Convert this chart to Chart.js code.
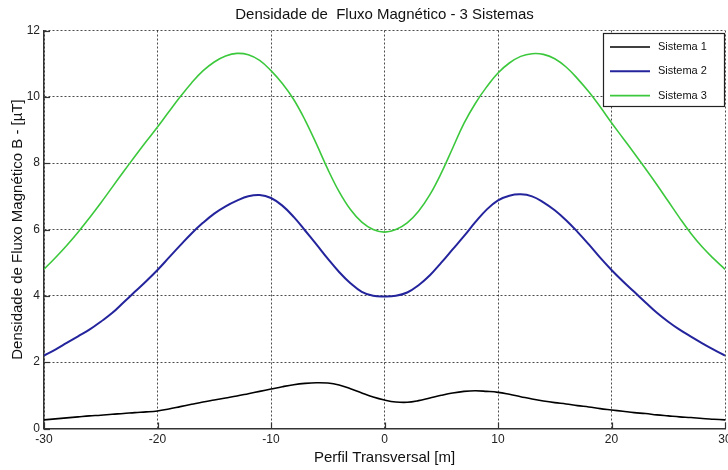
<!DOCTYPE html>
<html>
<head>
<meta charset="utf-8">
<script src="https://cdn.jsdelivr.net/npm/chart.js@4"></script>
<style>
  html, body { margin: 0; padding: 0; background: #fff; }
  #wrap { width: 728px; height: 470px; position: relative; }
</style>
</head>
<body>
<div id="wrap"><canvas id="c" width="728" height="470"></canvas></div>
<script>
// Transverse profile positions [m]
const xPositions = [-30,-29,-28,-27,-26,-25,-24,-23,-22,-21,-20,-19,-18,-17,-16,-15,-14,-13,-12,-11,-10,-9,-8,-7,-6,-5,-4,-3,-2,-1,0,
                    1,2,3,4,5,6,7,8,9,10,11,12,13,14,15,16,17,18,19,20,21,22,23,24,25,26,27,28,29,30];
// Magnetic flux density [µT]
const sistema1 = [0.26,0.29,0.32,0.35,0.38,0.40,0.43,0.45,0.48,0.50,0.53,0.59,0.66,0.73,0.80,0.86,0.92,0.98,1.05,1.12,1.19,1.26,1.32,1.36,1.38,1.37,1.31,1.20,1.07,0.95,0.86,
                  0.80,0.79,0.84,0.92,1.00,1.07,1.12,1.14,1.12,1.09,1.03,0.96,0.89,0.83,0.78,0.74,0.69,0.65,0.60,0.56,0.52,0.48,0.45,0.41,0.38,0.35,0.33,0.30,0.28,0.26];
const sistema2 = [2.20,2.38,2.58,2.78,2.98,3.22,3.48,3.80,4.12,4.44,4.78,5.15,5.52,5.88,6.20,6.48,6.70,6.87,7.00,7.04,6.95,6.72,6.38,5.97,5.55,5.12,4.72,4.38,4.12,4.00,3.98,
                  4.00,4.10,4.32,4.62,5.00,5.40,5.80,6.22,6.60,6.88,7.02,7.06,7.00,6.82,6.58,6.28,5.93,5.55,5.15,4.78,4.44,4.12,3.80,3.49,3.22,2.98,2.77,2.57,2.38,2.20];
const sistema3 = [4.80,5.15,5.52,5.92,6.35,6.80,7.27,7.74,8.20,8.65,9.09,9.55,10.00,10.42,10.78,11.05,11.23,11.31,11.27,11.10,10.79,10.40,9.92,9.30,8.58,7.82,7.14,6.60,6.22,6.00,5.92,
                  6.00,6.20,6.55,7.05,7.70,8.45,9.20,9.80,10.30,10.72,11.02,11.22,11.30,11.28,11.15,10.90,10.55,10.15,9.70,9.22,8.76,8.30,7.83,7.35,6.85,6.35,5.88,5.47,5.12,4.80];
const seriesLabels = ['Sistema 1', 'Sistema 2', 'Sistema 3'];
const seriesColors = ['#000000', '#24249c', '#3cc83c'];
const xTickValues = [-30,-20,-10,0,10,20,30];
const yTickValues = [0,2,4,6,8,10,12];

const FONT = '"Liberation Sans", Arial, sans-serif';

function toPoints(arr) { return xPositions.map((x, i) => ({ x: x, y: arr[i] })); }

const seriesData = [sistema1, sistema2, sistema3];
const datasets = seriesData.map((arr, i) => ({
  label: seriesLabels[i],
  data: toPoints(arr),
  borderColor: seriesColors[i],
  backgroundColor: seriesColors[i],
  borderWidth: i === 1 ? 2 : 1.6,
  pointRadius: 0,
  fill: false,
  tension: 0.4
}));

// inward tick marks like the original axes
const innerTicks = {
  id: 'innerTicks',
  afterDatasetsDraw(chart) {
    const ctx = chart.ctx, xs = chart.scales.x, ys = chart.scales.y, a = chart.chartArea;
    ctx.save();
    ctx.strokeStyle = '#333';
    ctx.lineWidth = 1.2;
    xs.ticks.forEach(t => {
      const px = Math.round(xs.getPixelForValue(t.value)) + 0.5;
      ctx.beginPath(); ctx.moveTo(px, a.bottom); ctx.lineTo(px, a.bottom - 6); ctx.stroke();
    });
    ys.ticks.forEach(t => {
      const py = Math.round(ys.getPixelForValue(t.value)) + 0.5;
      ctx.beginPath(); ctx.moveTo(a.left, py); ctx.lineTo(a.left + 6, py); ctx.stroke();
    });
    ctx.restore();
  }
};

// boxed legend in the upper right corner of the axes
const boxLegend = {
  id: 'boxLegend',
  afterDraw(chart) {
    const ctx = chart.ctx, a = chart.chartArea;
    const w = 122, h = 74;
    const x0 = a.right - w, y0 = a.top + 2.5;
    ctx.save();
    ctx.fillStyle = '#fff';
    ctx.fillRect(x0, y0, w, h);
    ctx.strokeStyle = '#222';
    ctx.lineWidth = 1.2;
    ctx.strokeRect(x0 + 0.5, y0 + 0.5, w - 1, h - 1);
    ctx.font = '11px ' + FONT;
    ctx.textBaseline = 'middle';
    ctx.textAlign = 'left';
    chart.data.datasets.forEach((ds, i) => {
      const cy = y0 + 14 + i * 24.3;
      ctx.strokeStyle = ds.borderColor;
      ctx.lineWidth = ds.borderWidth;
      ctx.beginPath(); ctx.moveTo(x0 + 7, cy); ctx.lineTo(x0 + 47, cy); ctx.stroke();
      ctx.fillStyle = '#111';
      ctx.fillText(ds.label, x0 + 55, cy);
    });
    ctx.restore();
  }
};

const gridCfg = {
  color: 'rgba(0,0,0,0.7)',
  lineWidth: 1,
  drawTicks: false
};

new Chart(document.getElementById('c'), {
  type: 'line',
  data: { datasets: datasets },
  plugins: [innerTicks, boxLegend],
  options: {
    responsive: false,
    animation: false,
    layout: { padding: { left: 0, right: 3, top: 0, bottom: 0 } },
    plugins: {
      legend: { display: false },
      tooltip: { enabled: false },
      title: {
        display: true,
        fullSize: false,
        text: 'Densidade de  Fluxo Magnético - 3 Sistemas',
        color: '#111',
        font: { family: FONT, size: 15, weight: 'normal' },
        padding: { top: 6, bottom: 6.5 }
      }
    },
    scales: {
      x: {
        type: 'linear',
        min: -30, max: 30,
        afterBuildTicks(scale) { scale.ticks = xTickValues.map(v => ({ value: v })); },
        afterFit(scale) { scale.height = 41.5; scale.paddingLeft = 0; scale.paddingRight = 0; },
        ticks: { color: '#222', font: { family: FONT, size: 12 }, padding: 4, maxRotation: 0 },
        grid: gridCfg,
        border: { display: true, color: '#333', width: 1.5, dash: [2, 2] },
        title: {
          display: true,
          text: 'Perfil Transversal [m]',
          color: '#111',
          font: { family: FONT, size: 15 },
          padding: { top: 0, bottom: 3 }
        }
      },
      y: {
        type: 'linear',
        min: 0, max: 12,
        afterBuildTicks(scale) { scale.ticks = yTickValues.map(v => ({ value: v })); },
        afterFit(scale) { scale.width = 44; scale.paddingTop = 0; scale.paddingBottom = 0; },
        ticks: { color: '#222', font: { family: FONT, size: 12 }, padding: 4 },
        grid: gridCfg,
        border: { display: true, color: '#333', width: 1.5, dash: [2, 2] },
        title: {
          display: true,
          text: 'Densidade de Fluxo Magnético B - [µT]',
          color: '#111',
          font: { family: FONT, size: 15 },
          padding: { top: 9, bottom: 0 }
        }
      }
    }
  }
});
</script>
</body>
</html>
